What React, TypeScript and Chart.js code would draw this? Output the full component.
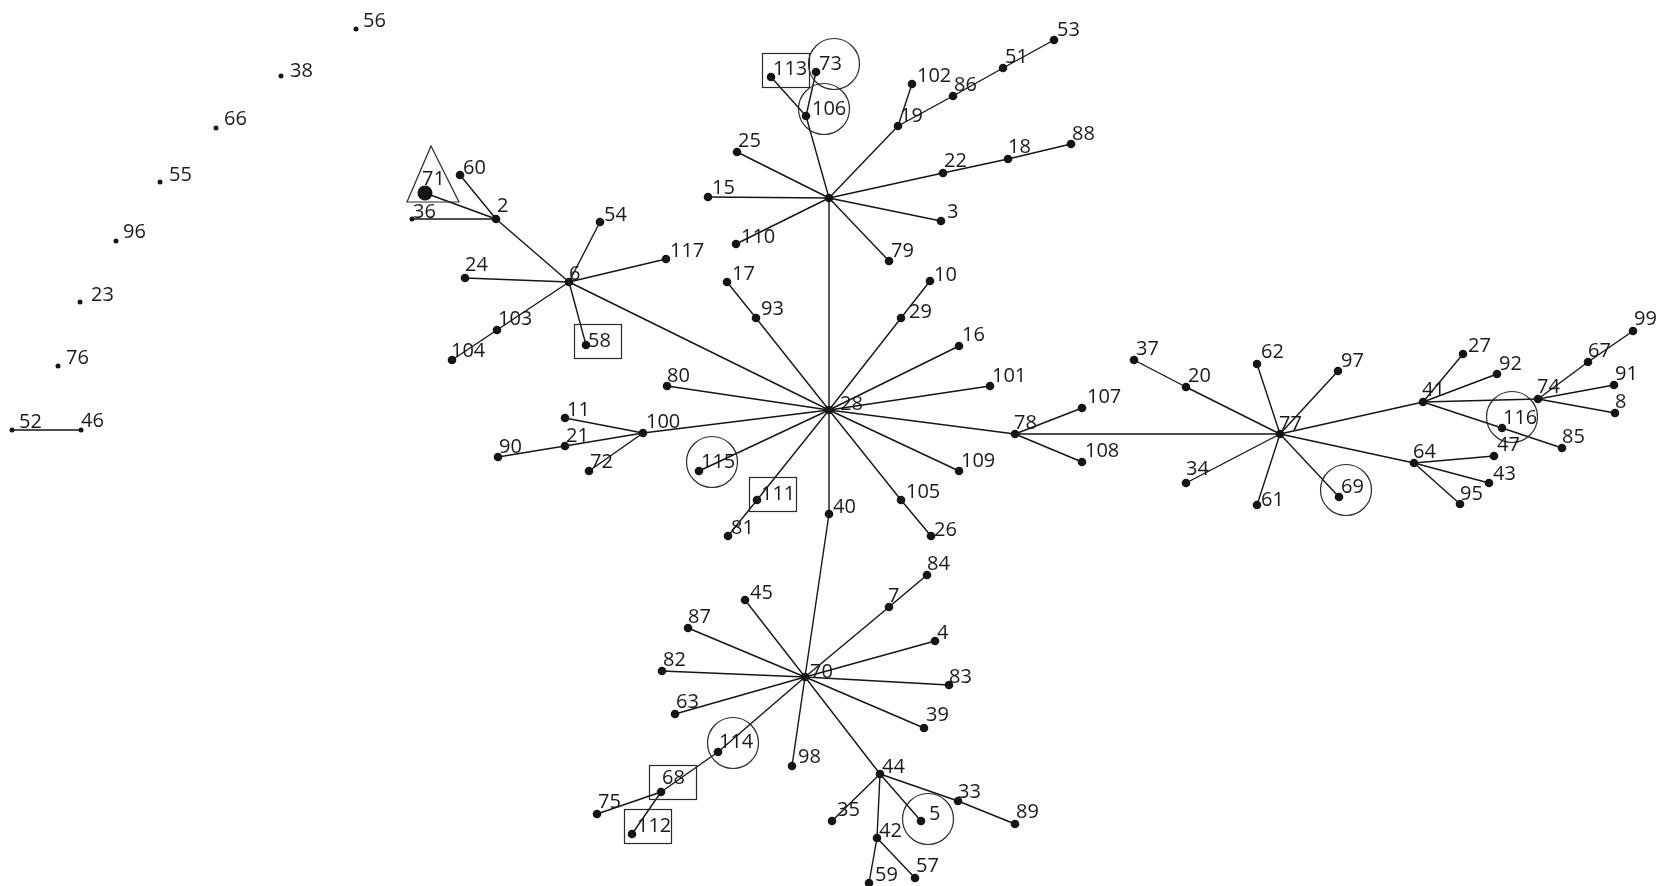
import React, { useEffect, useRef } from "react";
import { Chart, registerables } from "chart.js";

Chart.register(...registerables);

const NODE_IDS = [
  "56","38","66","55","96","23","76","52","46","71","60","36","2","24","104","6","54","117","103","58",
  "113","73","106","25","15","","110","17","93","102","86","51","53","19","22","18","88","3","79","10",
  "28","80","11","100","21","90","72","115","111","81","40","29","16","101","78","107","108","109","105","26",
  "37","20","62","97","77","34","61","69","41","27","92","74","116","85","67","99","91","8","64","47",
  "43","95","70","84","7","45","87","4","82","83","63","39","114","98","44","68","75","112","33","89",
  "35","5","42","59","57"
];
const NODE_X = [
  356,281,216,160,116,80,58,12,81,425,460,412,496,465,452,569,600,666,497,586,
  771,816,806,737,708,829,736,727,756,912,953,1003,1054,898,943,1008,1071,941,889,930,
  829,667,565,643,565,498,589,699,757,728,829,901,959,990,1015,1082,1082,959,901,931,
  1134,1186,1257,1338,1280,1186,1257,1339,1423,1463,1497,1538,1502,1562,1588,1633,1614,1615,1414,1494,
  1489,1460,805,927,889,745,688,935,662,949,675,924,718,792,880,661,597,632,958,1015,
  832,921,877,869,915
];
const NODE_Y = [
  29,76,128,182,241,302,366,430,430,193,175,219,219,278,360,282,222,259,330,345,
  77,72,116,152,197,198,244,282,318,84,96,68,40,126,173,159,144,221,261,281,
  410,386,418,433,446,457,471,471,500,536,514,318,346,386,434,408,462,471,500,536,
  360,387,364,371,434,483,505,497,402,354,374,399,428,448,362,331,385,413,463,456,
  483,504,677,575,607,600,628,641,671,685,714,728,752,766,774,792,814,834,801,824,
  821,821,838,883,878
];
// s = small dot, n = normal dot, l = large dot
const NODE_KIND = [
  "s","s","s","s","s","s","s","s","s","l","n","s","n","n","n","n","n","n","n","n",
  "n","n","n","n","n","n","n","n","n","n","n","n","n","n","n","n","n","n","n","n",
  "n","n","n","n","n","n","n","n","n","n","n","n","n","n","n","n","n","n","n","n",
  "n","n","n","n","n","n","n","n","n","n","n","n","n","n","n","n","n","n","n","n",
  "n","n","n","n","n","n","n","n","n","n","n","n","n","n","n","n","n","n","n","n",
  "n","n","n","n","n"
];

const EDGE_FROM = [
  "52","2","2","2","6","6","6","6","6","103","6","6",
  "","106","106","","","","","19","19","86","51","","22","18","","","",
  "28","93","28","29","28","28","28","28","28","105","28","28","111","28","28","100","100","21","100","28",
  "78","78","78",
  "77","20","77","77","77","77","77","77","77",
  "41","41","41","41","116","74","67","74","74",
  "64","64","64",
  "40","70","7","70","70","70","70","70","70","70","70","114","68","68","70","70","44","44","42","42","44","44","33"
];
const EDGE_TO = [
  "46","71","60","36","2","54","117","24","103","104","58","28",
  "106","113","73","25","15","110","19","102","86","51","53","22","18","88","3","79","28",
  "93","17","29","10","16","101","78","109","105","26","40","111","81","115","100","11","21","90","72","80",
  "107","108","77",
  "20","37","62","97","34","61","69","41","64",
  "27","92","74","116","85","67","99","91","8",
  "47","43","95",
  "70","7","84","45","87","4","82","83","63","39","114","68","75","112","98","44","35","42","59","57","5","33","89"
];

// highlighted nodes (markers drawn around them)
const CIRCLED = ["73","106","115","69","116","114","5"];
const BOXED = ["113","58","111","68","112"];
const TRIANGLED = ["71"];

// ---- Styling / label placement ----
const LABEL_NUDGE: Record<string, [number, number]> = {
  "56":[7,-2],"38":[9,1],"66":[8,-3],"55":[9,-1],"96":[7,-3],"23":[11,-1],"76":[8,-2],"52":[7,-2],"46":[0,-3],
  "71":[-3,-8],"60":[3,-1],"36":[1,-1],"2":[1,-7],"24":[0,-7],"104":[-1,-3],"6":[0,-2],"54":[4,-1],"117":[4,-2],
  "103":[1,-5],"58":[2,2],"113":[2,-2],"73":[3,-2],"106":[6,-1],"25":[1,-5],"15":[4,-3],"110":[5,-1],"17":[5,-2],
  "93":[5,-3],"102":[5,-2],"86":[1,-5],"51":[2,-5],"53":[3,-4],"19":[2,-4],"22":[1,-6],"18":[0,-6],"88":[1,-4],
  "3":[6,-3],"79":[2,-4],"10":[4,0],"28":[11,0],"80":[0,-4],"11":[2,-2],"100":[3,-5],"21":[1,-4],"90":[1,-4],
  "72":[1,-3],"115":[2,-3],"111":[4,0],"81":[3,-2],"40":[4,-1],"29":[8,0],"16":[3,-5],"101":[2,-4],"78":[-1,-5],
  "107":[5,-5],"108":[3,-5],"109":[2,-4],"105":[5,-2],"26":[3,0],"37":[2,-5],"20":[2,-5],"62":[4,-6],"97":[3,-4],
  "77":[-1,-4],"34":[0,-8],"61":[4,1],"69":[2,-4],"41":[-1,-6],"27":[5,-2],"92":[2,-4],"64":[-1,-5],"47":[3,-5],
  "43":[4,-3],"95":[0,-4],"99":[1,-6],"67":[0,-5],"91":[1,-5],"8":[0,-5],"74":[-1,-6],"116":[1,-4],"85":[0,-5],
  "84":[0,-5],"7":[-1,-5],"45":[5,-1],"87":[0,-5],"4":[2,-2],"82":[1,-5],"70":[5,1],"83":[0,-2],"63":[1,-6],
  "39":[2,-7],"114":[1,-4],"98":[6,-3],"44":[2,-1],"68":[1,-8],"75":[1,-6],"112":[5,-2],"33":[0,-3],"89":[1,-6],
  "35":[5,-5],"5":[8,-1],"42":[2,-1],"59":[6,-2],"57":[1,-6]
};
const CIRCLE_CENTER: Record<string, [number, number]> = {
  "73":[18,-8],"106":[18,-7],"115":[13,-9],"69":[7,-7],"116":[10,-11],"114":[15,-9],"5":[7,-2]
};
const BOX_CORNER: Record<string, [number, number]> = {
  "113":[-9,-24],"58":[-12,-21],"111":[-8,-23],"68":[-12,-27],"112":[-8,-25]
};

const W = 1665;
const H = 886;
const INK = "#151515";

function idx(id: string) {
  return NODE_IDS.indexOf(id);
}

const overlayPlugin = {
  id: "networkOverlay",
  afterDatasetsDraw(chart: any) {
    const { ctx, scales } = chart;
    const px = (i: number) => scales.x.getPixelForValue(NODE_X[i]);
    const py = (i: number) => scales.y.getPixelForValue(NODE_Y[i]);
    ctx.save();
    // shapes
    ctx.strokeStyle = "#2a2a2a";
    ctx.lineWidth = 1.2;
    CIRCLED.forEach((id) => {
      const i = idx(id);
      const o = CIRCLE_CENTER[id] || [10, -8];
      ctx.beginPath();
      ctx.arc(px(i) + o[0], py(i) + o[1], 25.5, 0, Math.PI * 2);
      ctx.stroke();
    });
    BOXED.forEach((id) => {
      const i = idx(id);
      const o = BOX_CORNER[id] || [-10, -24];
      ctx.strokeRect(px(i) + o[0] + 0.5, py(i) + o[1] + 0.5, 47, 34);
    });
    TRIANGLED.forEach((id) => {
      const i = idx(id);
      const x = px(i), y = py(i);
      ctx.beginPath();
      ctx.moveTo(x + 6, y - 47);
      ctx.lineTo(x + 34, y + 9);
      ctx.lineTo(x - 18, y + 9);
      ctx.closePath();
      ctx.stroke();
    });
    // labels
    ctx.fillStyle = "#1a1a1a";
    ctx.font = '20px "Open Sans", "DejaVu Sans", sans-serif';
    ctx.textAlign = "left";
    ctx.textBaseline = "alphabetic";
    NODE_IDS.forEach((id, i) => {
      if (!id) return;
      const n = LABEL_NUDGE[id] || [3, -3];
      ctx.fillText(id, px(i) + n[0], py(i) + n[1]);
    });
    ctx.restore();
  },
};

export default function App() {
  const ref = useRef<HTMLCanvasElement | null>(null);
  useEffect(() => {
    if (!ref.current) return;
    const edgeSets = EDGE_FROM.map((f, k) => {
      const a = idx(f);
      const b = idx(EDGE_TO[k]);
      return {
        type: "line" as const,
        data: [
          { x: NODE_X[a], y: NODE_Y[a] },
          { x: NODE_X[b], y: NODE_Y[b] },
        ],
        borderColor: INK,
        borderWidth: 1.4,
        pointRadius: 0,
        showLine: true,
        fill: false,
        clip: false as any,
      };
    });
    const nodeSet = {
      type: "scatter" as const,
      data: NODE_X.map((x, i) => ({ x, y: NODE_Y[i] })),
      pointRadius: NODE_KIND.map((k) => (k === "s" ? 2.5 : k === "l" ? 7.5 : 4.3)),
      pointBackgroundColor: INK,
      pointBorderWidth: 0,
      clip: false as any,
    };
    const chart = new Chart(ref.current, {
      type: "scatter",
      data: { datasets: [...edgeSets, nodeSet] as any },
      options: {
        responsive: false,
        animation: false,
        devicePixelRatio: 1,
        layout: { padding: 0, autoPadding: false },
        plugins: { legend: { display: false }, tooltip: { enabled: false } },
        scales: {
          x: { type: "linear", min: 0, max: W, display: false },
          y: { type: "linear", min: 0, max: H, reverse: true, display: false },
        },
        events: [],
      },
      plugins: [overlayPlugin],
    });
    return () => chart.destroy();
  }, []);
  return (
    <div style={{ position: "fixed", left: 0, top: 0, width: W, height: H, background: "#fff" }}>
      <canvas ref={ref} width={W} height={H} style={{ display: "block" }} />
    </div>
  );
}
